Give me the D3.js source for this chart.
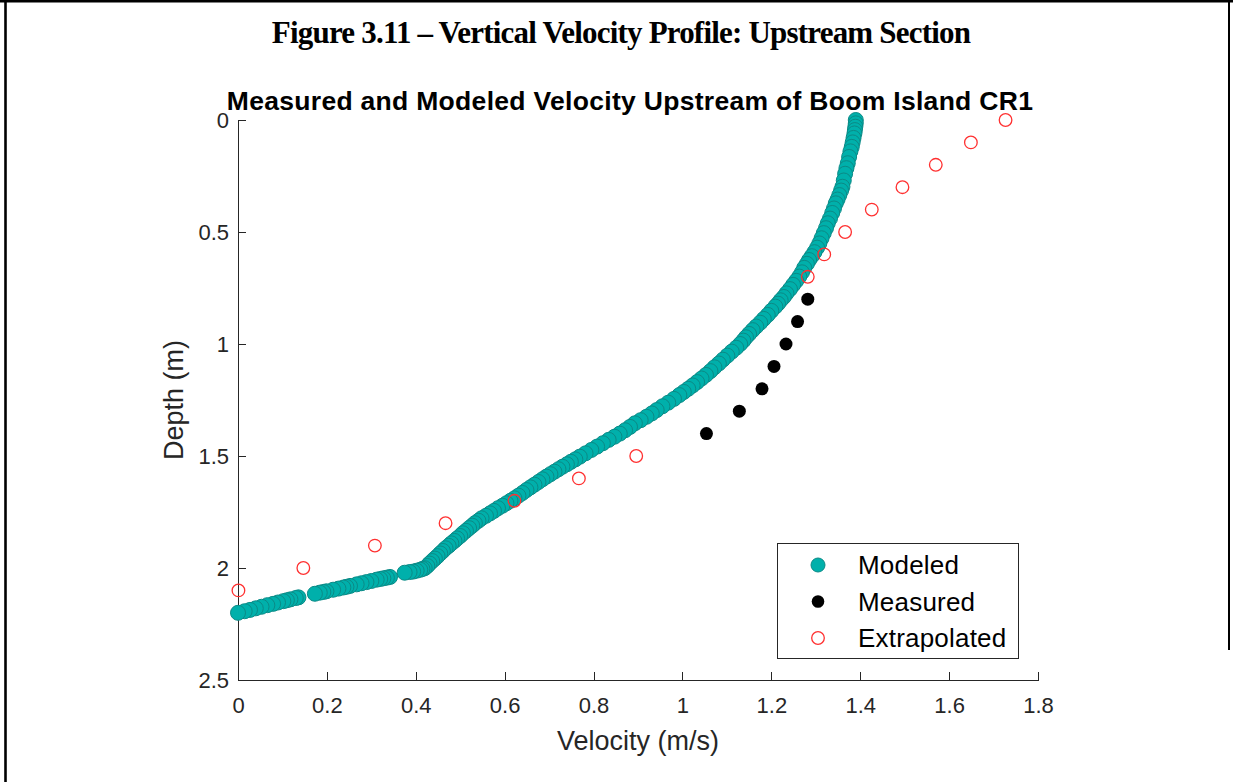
<!DOCTYPE html>
<meta charset="utf-8">
<style>
body { margin: 0; background: #fff; }
.axis path, .axis line { fill: none; stroke: #262626; stroke-width: 1; shape-rendering: crispEdges; }
.axis text { font-family: "Liberation Sans", Arial, sans-serif; font-size: 22px; fill: #262626; }
.label { font-family: "Liberation Sans", Arial, sans-serif; font-size: 27px; fill: #262626; text-anchor: middle; }
.legend text { font-family: "Liberation Sans", Arial, sans-serif; font-size: 26px; fill: #000; letter-spacing: 0.2px; }
</style>
<body>
<div id="chart"></div>
<script src="https://d3js.org/d3.v7.min.js"></script>
<script>

// tick labels
var xTicks = [0, 0.2, 0.4, 0.6, 0.8, 1, 1.2, 1.4, 1.6, 1.8];
var yTicks = [0, 0.5, 1, 1.5, 2, 2.5];

// modeled profile (surface to bed)
var modeledDepth = [
  0.000, 0.015, 0.030, 0.045, 0.060, 0.080, 0.100, 0.120, 0.140, 0.165,
  0.193, 0.215, 0.240, 0.270, 0.298, 0.315, 0.335, 0.355, 0.372, 0.395,
  0.415, 0.440, 0.461, 0.483, 0.505, 0.528, 0.551, 0.570, 0.590, 0.608,
  0.625, 0.642, 0.660, 0.680, 0.699, 0.718, 0.736, 0.755, 0.774, 0.790,
  0.805, 0.820, 0.833, 0.852, 0.870, 0.888, 0.905, 0.922, 0.938, 0.955,
  0.970, 0.985, 1.000, 1.017, 1.034, 1.052, 1.070, 1.087, 1.104, 1.121,
  1.138, 1.154, 1.170, 1.185, 1.200, 1.214, 1.228, 1.245, 1.262, 1.278,
  1.295, 1.310, 1.325, 1.340, 1.354, 1.370, 1.385, 1.400, 1.414, 1.428,
  1.443, 1.458, 1.473, 1.488, 1.503, 1.515, 1.526, 1.537, 1.548, 1.559,
  1.570, 1.581, 1.592, 1.604, 1.616, 1.628, 1.640, 1.652, 1.665, 1.677,
  1.689, 1.700, 1.711, 1.722, 1.733, 1.745, 1.756, 1.767, 1.778, 1.789,
  1.800, 1.811, 1.822, 1.834, 1.845, 1.857, 1.868, 1.879, 1.890, 1.901,
  1.912, 1.924, 1.935, 1.947, 1.958, 1.969, 1.980, 1.991, 2.001, 2.004,
  2.008, 2.012, 2.016, 2.018, 2.021, 2.040, 2.043, 2.046, 2.049, 2.052,
  2.058, 2.063, 2.068, 2.073, 2.080, 2.084, 2.087, 2.092, 2.097, 2.104,
  2.107, 2.110, 2.115, 2.131, 2.134, 2.140, 2.144, 2.148, 2.154, 2.160,
  2.166, 2.173, 2.180, 2.187, 2.193, 2.200];
var modeledVelocity = [
  1.390, 1.390, 1.389, 1.388, 1.387, 1.385, 1.383, 1.381, 1.378, 1.375,
  1.372, 1.369, 1.366, 1.363, 1.360, 1.357, 1.353, 1.349, 1.345, 1.341,
  1.337, 1.332, 1.327, 1.323, 1.318, 1.313, 1.308, 1.303, 1.297, 1.291,
  1.285, 1.280, 1.274, 1.269, 1.263, 1.256, 1.249, 1.242, 1.234, 1.228,
  1.221, 1.215, 1.209, 1.200, 1.192, 1.183, 1.175, 1.166, 1.158, 1.150,
  1.143, 1.137, 1.130, 1.121, 1.111, 1.101, 1.091, 1.082, 1.072, 1.063,
  1.053, 1.043, 1.033, 1.023, 1.013, 1.003, 0.993, 0.981, 0.968, 0.955,
  0.942, 0.931, 0.919, 0.906, 0.893, 0.882, 0.871, 0.859, 0.847, 0.834,
  0.821, 0.808, 0.795, 0.782, 0.769, 0.759, 0.749, 0.740, 0.730, 0.721,
  0.712, 0.703, 0.694, 0.685, 0.676, 0.667, 0.658, 0.649, 0.640, 0.631,
  0.622, 0.613, 0.604, 0.595, 0.585, 0.576, 0.567, 0.558, 0.548, 0.541,
  0.533, 0.527, 0.520, 0.513, 0.506, 0.500, 0.493, 0.487, 0.480, 0.474,
  0.467, 0.461, 0.455, 0.449, 0.443, 0.437, 0.431, 0.426, 0.420, 0.415,
  0.410, 0.402, 0.394, 0.386, 0.375, 0.342, 0.335, 0.327, 0.320, 0.312,
  0.300, 0.289, 0.278, 0.267, 0.252, 0.244, 0.237, 0.226, 0.214, 0.199,
  0.192, 0.184, 0.173, 0.136, 0.130, 0.118, 0.110, 0.102, 0.090, 0.079,
  0.066, 0.053, 0.040, 0.027, 0.015, 0.000];

// measured
var measuredDepth = [0.8, 0.9, 1.0, 1.1, 1.2, 1.3, 1.4];
var measuredVelocity = [1.282, 1.259, 1.233, 1.206, 1.179, 1.128, 1.054];

// extrapolated
var extrapDepth = [0, 0.1, 0.2, 0.3, 0.4, 0.5, 0.6, 0.7, 1.5, 1.6, 1.7, 1.8, 1.9, 2.0, 2.1];
var extrapVelocity = [1.727, 1.649, 1.570, 1.495, 1.426, 1.366, 1.319, 1.282, 0.896, 0.767, 0.622, 0.467, 0.308, 0.147, 0.001];

var legendNames = ["Modeled", "Measured", "Extrapolated"];

var width = 1233, height = 782,
    plot = {left: 238, right: 1038, top: 120, bottom: 680};

var svg = d3.select("#chart").append("svg")
  .attr("width", width)
  .attr("height", height);

// page frame
svg.append("line").attr("x1", 0).attr("x2", width).attr("y1", 1.3).attr("y2", 1.3)
  .attr("stroke", "#000").attr("stroke-width", 2.6);
svg.append("line").attr("x1", 5.5).attr("x2", 5.5).attr("y1", 0).attr("y2", height)
  .attr("stroke", "#000").attr("stroke-width", 2.6);
svg.append("line").attr("x1", 1229).attr("x2", 1229).attr("y1", 0).attr("y2", 650)
  .attr("stroke", "#000").attr("stroke-width", 2);

// titles
svg.append("text")
  .attr("x", 621).attr("y", 43)
  .attr("text-anchor", "middle")
  .style("font-family", "'Liberation Serif', 'Times New Roman', serif")
  .style("font-weight", "bold")
  .style("font-size", "31px")
  .style("letter-spacing", "-0.8px")
  .text("Figure 3.11 \u2013 Vertical Velocity Profile: Upstream Section");

svg.append("text")
  .attr("x", 630).attr("y", 110)
  .attr("text-anchor", "middle")
  .style("font-family", "'Liberation Sans', Arial, sans-serif")
  .style("font-weight", "bold")
  .style("font-size", "26.5px")
  .style("letter-spacing", "0.3px")
  .text("Measured and Modeled Velocity Upstream of Boom Island CR1");

var x = d3.scaleLinear().domain([0, 1.8]).range([plot.left, plot.right]);
var y = d3.scaleLinear().domain([0, 2.5]).range([plot.top, plot.bottom]);

var xAxis = d3.axisBottom(x).tickValues(xTicks).tickFormat(d3.format("")).tickSizeInner(-8).tickSizeOuter(0).tickPadding(17);
var yAxis = d3.axisLeft(y).tickValues(yTicks).tickFormat(d3.format("")).tickSizeInner(-8).tickSizeOuter(0).tickPadding(9);

svg.append("g")
  .attr("class", "x axis")
  .attr("transform", "translate(0," + plot.bottom + ")")
  .call(xAxis);

svg.append("g")
  .attr("class", "y axis")
  .attr("transform", "translate(" + plot.left + ",0)")
  .call(yAxis);

// axis labels
svg.append("text").attr("class", "label")
  .attr("x", (plot.left + plot.right) / 2).attr("y", 750)
  .text("Velocity (m/s)");
svg.append("text").attr("class", "label")
  .attr("transform", "translate(183," + (plot.top + plot.bottom) / 2 + ") rotate(-90)")
  .text("Depth (m)");

// modeled points
svg.append("g").selectAll("circle")
  .data(d3.range(modeledDepth.length))
  .enter().append("circle")
  .attr("cx", i => x(modeledVelocity[i]))
  .attr("cy", i => y(modeledDepth[i]))
  .attr("r", 7.5)
  .style("fill", "#00b0ab")
  .style("stroke", "#0b8a86")
  .style("stroke-width", 1);

// measured points
svg.append("g").selectAll("circle")
  .data(d3.range(measuredDepth.length))
  .enter().append("circle")
  .attr("cx", i => x(measuredVelocity[i]))
  .attr("cy", i => y(measuredDepth[i]))
  .attr("r", 6.5)
  .style("fill", "#000");

// extrapolated points
svg.append("g").selectAll("circle")
  .data(d3.range(extrapDepth.length))
  .enter().append("circle")
  .attr("cx", i => x(extrapVelocity[i]))
  .attr("cy", i => y(extrapDepth[i]))
  .attr("r", 6.3)
  .style("fill", "none")
  .style("stroke", "#ff3030")
  .style("stroke-width", 1.3);

// legend
var legend = svg.append("g").attr("class", "legend");
legend.append("rect")
  .attr("x", 777.5).attr("y", 543.5).attr("width", 241).attr("height", 115)
  .style("fill", "#fff").style("stroke", "#262626").style("stroke-width", 1);

var rows = legend.selectAll(".row")
  .data(legendNames)
  .enter().append("g")
  .attr("class", "row")
  .attr("transform", (d, i) => "translate(818," + (565 + i * 36.5) + ")");

rows.append("circle")
  .attr("r", (d, i) => i == 0 ? 7 : 6.3)
  .style("fill", (d, i) => i == 0 ? "#00b0ab" : i == 1 ? "#000" : "#fff")
  .style("stroke", (d, i) => i == 0 ? "#0b8a86" : i == 1 ? "none" : "#ff3030")
  .style("stroke-width", (d, i) => i == 2 ? 1.3 : 1);

rows.append("text")
  .attr("x", 40).attr("y", 0).attr("dy", "0.36em")
  .text(d => d);

</script>
</body>
